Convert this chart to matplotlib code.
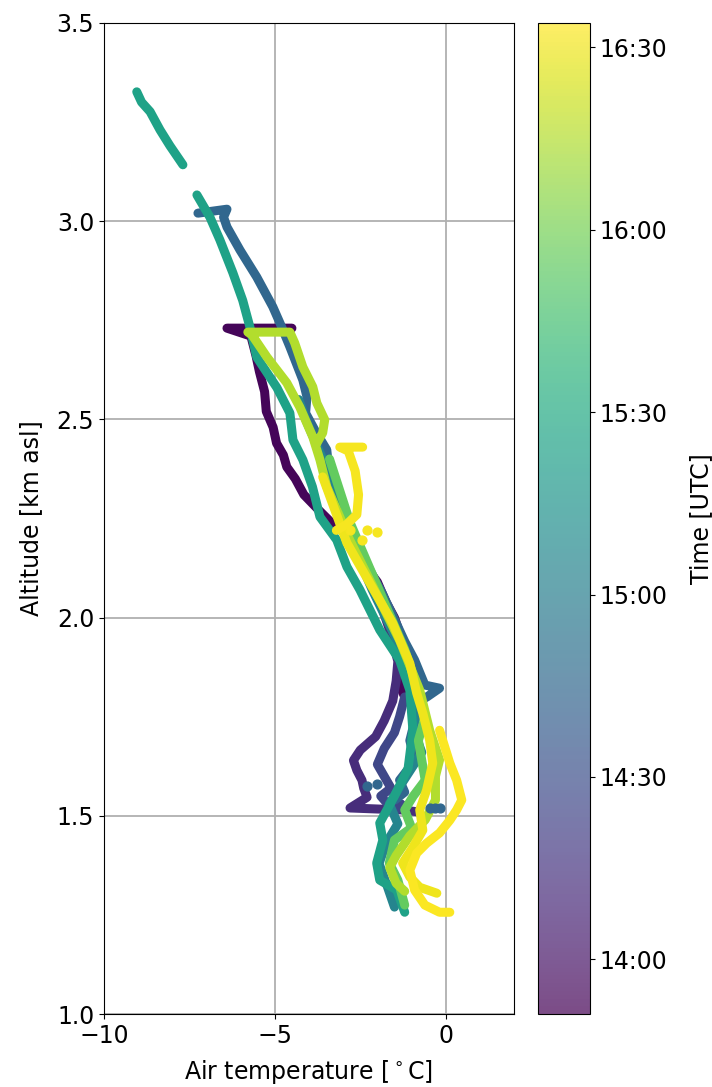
import matplotlib
matplotlib.use("Agg")
import matplotlib.pyplot as plt
from matplotlib.colors import Normalize
from matplotlib.cm import ScalarMappable

# flight tracks: time in minutes after midnight (UTC), temperature (degC), altitude (km asl)
time_start = 13 * 60 + 51
time_end = 16 * 60 + 34

t1 = 833
temp1 = [-4.5, -6.4, -5.7, -5.55, -5.45, -5.3, -5.25, -5.05, -4.95, -4.75, -4.65, -4.4, -4.15,
         -3.7, -3.35, -2.9, -2.55, -2.35, -2.0, -1.75, -1.5, -1.3, -1.1, -1.2, -1.3, -1.2, -1.0]
alt1 = [2.73, 2.73, 2.71, 2.66, 2.62, 2.57, 2.52, 2.48, 2.44, 2.41, 2.38, 2.35, 2.31, 2.27,
        2.24, 2.21, 2.16, 2.13, 2.09, 2.04, 2.00, 1.95, 1.90, 1.86, 1.82, 1.80, 1.79]

t2 = 852
temp2 = [-2.0, -1.65, -1.4, -1.45, -1.55, -1.8, -2.05, -2.5, -2.7, -2.6, -2.45, -2.4, -2.3,
         -2.8, -1.26, -0.8]
alt2 = [2.06, 1.97, 1.89, 1.84, 1.79, 1.74, 1.70, 1.666, 1.64, 1.615, 1.59, 1.57, 1.547,
        1.52, 1.515, 1.51]

t3 = 866
temp3 = [-1.2, -1.35, -1.5, -1.8, -2.0, -1.8, -1.6, -1.9, -1.7, -1.3, -1.5]
alt3 = [1.80, 1.75, 1.71, 1.67, 1.63, 1.60, 1.57, 1.55, 1.53, 1.53, 1.51]

t4 = 885
temp4 = [-7.25, -6.4, -6.5, -6.4, -6.02, -5.53, -5.06, -4.80, -4.56, -4.18, -4.06, -4.1, -3.83,
         -3.48, -3.39, -2.95, -2.6, -2.22, -1.85, -1.49, -1.2, -0.91, -0.61, -0.18, -0.55, -0.76,
         -1.05, -0.9, -1.35, -1.2, -1.49]
alt4 = [3.02, 3.03, 3.01, 2.985, 2.927, 2.859, 2.784, 2.733, 2.683, 2.599, 2.557, 2.516, 2.473,
        2.423, 2.347, 2.246, 2.18, 2.12, 2.06, 1.994, 1.94, 1.893, 1.83, 1.822, 1.80, 1.79,
        1.69, 1.64, 1.59, 1.56, 1.54]
dots4_temp = [-0.45, -0.3, -0.18, -2.3, -2.0]
dots4_alt = [1.52, 1.52, 1.52, 1.575, 1.58]

t5 = 905
temp5 = [-4.3, -4.1, -3.8, -3.5, -3.25, -2.9, -2.5, -2.15, -1.7, -1.3, -1.0, -0.8, -0.95, -0.7,
         -1.0, -1.3, -1.65, -1.4, -1.75, -1.95, -1.7, -1.5]
alt5 = [2.55, 2.50, 2.44, 2.38, 2.30, 2.22, 2.14, 2.07, 1.99, 1.92, 1.85, 1.78, 1.72, 1.66,
        1.62, 1.58, 1.53, 1.48, 1.43, 1.38, 1.32, 1.27]

t6 = 925
temp6a = [-9.04, -8.9, -8.65, -8.36, -8.07, -7.69]
alt6a = [3.326, 3.30, 3.276, 3.23, 3.19, 3.142]
temp6 = [-7.28, -6.90, -6.61, -6.23, -5.94, -5.73, -5.53, -4.94, -4.56, -4.47, -4.18, -3.9,
         -3.68, -3.19, -2.89, -2.51, -1.93, -1.35, -1.05, -0.96, -1.1, -1.5, -1.93, -1.84, -2.02,
         -1.93, -1.43, -1.2]
alt6 = [3.066, 3.01, 2.953, 2.87, 2.80, 2.733, 2.657, 2.58, 2.516, 2.448, 2.398, 2.33, 2.254,
        2.196, 2.128, 2.07, 1.969, 1.893, 1.817, 1.716, 1.62, 1.55, 1.482, 1.439, 1.381, 1.338,
        1.313, 1.257]

t7 = 955
temp7 = [-3.4, -3.1, -2.8, -2.4, -2.0, -1.6, -1.2, -0.9, -0.6, -0.8, -0.6, -0.95, -1.2,
         -1.0, -1.5, -1.65, -1.4, -1.2]
alt7 = [2.40, 2.32, 2.24, 2.16, 2.08, 2.00, 1.92, 1.84, 1.75, 1.69, 1.59, 1.55, 1.515, 1.47,
        1.439, 1.381, 1.338, 1.275]

t8 = 975
temp8 = [-3.77, -3.6, -3.54, -3.77, -3.89, -4.18, -4.42, -4.56, -5.79, -5.67, -5.23, -4.65,
         -4.27, -3.89, -3.68, -3.48, -2.81, -2.08, -1.35, -0.76, -0.47, -0.18, -0.3, -0.3, -0.6,
         -1.05, -1.45, -1.64, -1.45, -1.2]
alt8 = [2.44, 2.466, 2.499, 2.541, 2.582, 2.632, 2.693, 2.72, 2.72, 2.713, 2.657, 2.592,
        2.531, 2.456, 2.398, 2.33, 2.196, 2.07, 1.943, 1.817, 1.716, 1.641, 1.60, 1.54, 1.49,
        1.45, 1.40, 1.37, 1.33, 1.31]

t9 = 990
temp9 = [-3.60, -2.89, -2.22, -1.55, -1.05, -0.85, -0.67, -0.47, -0.38, -0.56, -0.76, -0.67,
         -0.96, -1.26, -1.05, -0.76, -0.26]
alt9 = [2.355, 2.188, 2.087, 1.986, 1.885, 1.81, 1.759, 1.691, 1.633, 1.565, 1.515, 1.464,
        1.421, 1.381, 1.346, 1.32, 1.305]

t10 = 993
temp10 = [-0.18, 0.12, 0.32, 0.47, 0.32, 0.12, -0.18, -0.56, -0.85, -1.05, -0.91, -0.61,
          -0.18, 0.12]
alt10 = [1.716, 1.633, 1.59, 1.54, 1.515, 1.489, 1.457, 1.431, 1.406, 1.363, 1.313, 1.275,
         1.257, 1.257]

t11 = 992
temp11 = [-2.43, -3.1, -2.85, -2.65, -2.55, -2.6, -2.9, -3.2]
alt11 = [2.43, 2.43, 2.42, 2.37, 2.31, 2.26, 2.235, 2.22]
dots11_temp = [-2.8, -2.3, -2.0, -2.45]
dots11_alt = [2.22, 2.22, 2.215, 2.195]

tracks = [
    (t1, temp1, alt1), (t2, temp2, alt2), (t3, temp3, alt3), (t4, temp4, alt4),
    (t5, temp5, alt5), (t6, temp6a, alt6a), (t6, temp6, alt6), (t7, temp7, alt7),
    (t8, temp8, alt8), (t9, temp9, alt9), (t10, temp10, alt10), (t11, temp11, alt11),
]

tick_times = [840, 870, 900, 930, 960, 990]
tick_labels = ["14:00", "14:30", "15:00", "15:30", "16:00", "16:30"]

plt.rcParams["font.size"] = 17

cmap = plt.get_cmap("viridis")
norm = Normalize(vmin=time_start, vmax=time_end)

fig = plt.figure(figsize=(7.12, 10.87), dpi=100)
ax = fig.add_axes([0.146, 0.067, 0.576, 0.912])
cax = fig.add_axes([0.756, 0.067, 0.072, 0.912])

ax.grid(True, color="#b0b0b0", lw=1.3, zorder=0)
ax.set_axisbelow(True)

for t, temp, alt in tracks:
    ax.plot(temp, alt, color=cmap(norm(t)), lw=6.5, solid_capstyle="round",
            solid_joinstyle="round", zorder=2)

ax.scatter(dots4_temp, dots4_alt, color=cmap(norm(t4)), s=40, zorder=2)
ax.scatter(dots11_temp, dots11_alt, color=cmap(norm(t11)), s=40, zorder=3)

ax.set_xlim(-10, 2)
ax.set_ylim(1.0, 3.5)
ax.set_xticks([-10, -5, 0])
ax.set_yticks([1.0, 1.5, 2.0, 2.5, 3.0, 3.5])
ax.set_xlabel("Air temperature [$^\\circ$C]", labelpad=7)
ax.set_ylabel("Altitude [km asl]", labelpad=10)

sm = ScalarMappable(norm=norm, cmap=cmap)
cb = fig.colorbar(sm, cax=cax, alpha=0.7)
cb.set_ticks(tick_times)
cb.set_ticklabels(tick_labels)
cb.set_label("Time [UTC]", labelpad=16)

fig.savefig("out.png", dpi=100)
